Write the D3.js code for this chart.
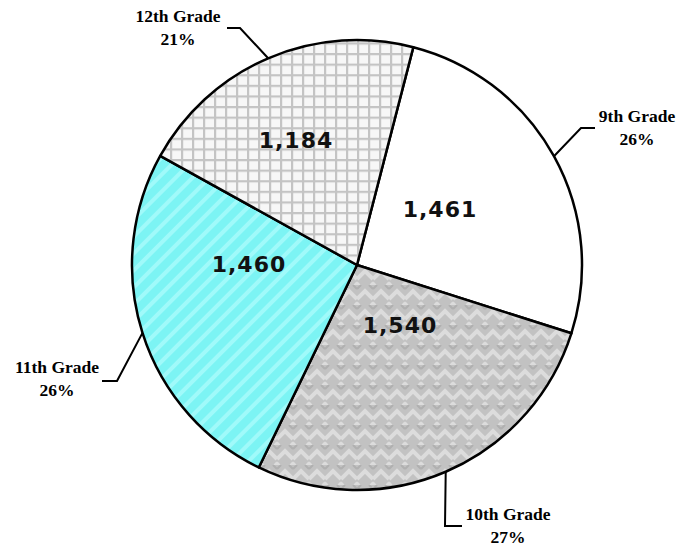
<!DOCTYPE html>
<html>
<head>
<meta charset="utf-8">
<script src="https://cdn.jsdelivr.net/npm/d3@7"></script>
<style>
  body { margin: 0; background: #fff; }
  svg { display: block; }
</style>
</head>
<body>
<div id="chart"></div>
<script>
// Data grade dan jumlah siswa
var grades = ["9th Grade", "10th Grade", "11th Grade", "12th Grade"];
var counts = [1461, 1540, 1460, 1184];
var percents = ["26%", "27%", "26%", "21%"];
var valueLabels = ["1,461", "1,540", "1,460", "1,184"];

var width = 684;
var height = 546;
var cx = 357, cy = 265;
var radius = 225;
var startDeg = 14.5; // posisi awal irisan pertama

var svg = d3.select("#chart")
    .append("svg")
    .attr("width", width)
    .attr("height", height);

// Pola isian untuk tiap irisan
var defs = svg.append("defs");

// kisi-kisi abu-abu untuk 12th
var pGrid = defs.append("pattern")
    .attr("id", "pGrid")
    .attr("patternUnits", "userSpaceOnUse")
    .attr("width", 11).attr("height", 10.6);
pGrid.append("rect").attr("width", 11).attr("height", 10.6).attr("fill", "#f7f7f7");
pGrid.append("rect").attr("x", 0).attr("y", 0).attr("width", 2.2).attr("height", 10.6).attr("fill", "#c4c4c4");
pGrid.append("rect").attr("x", 0).attr("y", 0).attr("width", 11).attr("height", 2.2).attr("fill", "#c4c4c4");

// zigzag abu-abu untuk 10th
var pZig = defs.append("pattern")
    .attr("id", "pZig")
    .attr("patternUnits", "userSpaceOnUse")
    .attr("width", 16).attr("height", 20);
pZig.append("rect").attr("width", 16).attr("height", 20).attr("fill", "#c2c2c2");
pZig.append("path")
    .attr("d", "M0,14 L8,6 L16,14 M0,20 L2,18 M14,18 L16,20")
    .attr("stroke", "#dcdcdc").attr("stroke-width", 4).attr("fill", "none");
pZig.append("path")
    .attr("d", "M0,4 L4,0 M12,0 L16,4")
    .attr("stroke", "#b0b0b0").attr("stroke-width", 2).attr("fill", "none");

// diagonal cyan untuk 11th
var pCyan = defs.append("pattern")
    .attr("id", "pCyan")
    .attr("patternUnits", "userSpaceOnUse")
    .attr("width", 12).attr("height", 12)
    .attr("patternTransform", "rotate(45)");
pCyan.append("rect").attr("width", 12).attr("height", 12).attr("fill", "#7cf4f4");
pCyan.append("rect").attr("x", 0).attr("width", 4).attr("height", 12).attr("fill", "#a0fafa");

var fills = ["#ffffff", "url(#pZig)", "url(#pCyan)", "url(#pGrid)"];

var toRad = Math.PI / 180;
var pie = d3.pie()
    .sort(null)
    .value(function(d) { return d; })
    .startAngle(startDeg * toRad)
    .endAngle((startDeg + 360) * toRad);

var arcs = pie(counts);

var arc = d3.arc().innerRadius(0).outerRadius(radius);

var g = svg.append("g")
    .attr("transform", "translate(" + cx + "," + cy + ")");

g.selectAll("path.slice")
    .data(arcs)
    .enter()
    .append("path")
    .attr("class", "slice")
    .attr("d", arc)
    .attr("fill", function(d, i) { return fills[i]; })
    .attr("stroke", "#000")
    .attr("stroke-width", 2.5)
    .attr("stroke-linejoin", "round");

// Label angka di dalam irisan (posisi disesuaikan manual)
var innerPos = [[83, -48], [43, 68], [-108, 7], [-61, -117]];
g.selectAll("text.val")
    .data(arcs)
    .enter()
    .append("text")
    .attr("class", "val")
    .attr("x", function(d, i) { return innerPos[i][0]; })
    .attr("y", function(d, i) { return innerPos[i][1]; })
    .attr("text-anchor", "middle")
    .style("font-family", "'DejaVu Sans', Verdana, sans-serif")
    .style("font-weight", "bold")
    .style("font-size", "22px")
    .style("letter-spacing", "1px")
    .style("fill", "#111")
    .text(function(d, i) { return valueLabels[i]; });

// Garis penunjuk dan label luar
// siku: titik belok, ujung: akhir garis horizontal, teks: pusat label
var elbow = [[581, 128], [445, 526], [117, 381], [240, 28]];
var tipX = [595, 462, 102, 227];
var labelPos = [[637, 122], [508, 520], [57, 373], [178, 22]];

arcs.forEach(function(d, i) {
    var mid = (d.startAngle + d.endAngle) / 2;
    var px = cx + radius * Math.sin(mid);
    var py = cy - radius * Math.cos(mid);
    svg.append("polyline")
        .attr("points", [[px, py], elbow[i], [tipX[i], elbow[i][1]]].map(function(p) { return p.join(","); }).join(" "))
        .attr("fill", "none")
        .attr("stroke", "#000")
        .attr("stroke-width", 2);

    var t = svg.append("text")
        .attr("x", labelPos[i][0])
        .attr("y", labelPos[i][1])
        .attr("text-anchor", "middle")
        .style("font-family", "'Liberation Serif', 'Times New Roman', serif")
        .style("font-weight", "bold")
        .style("font-size", "17.5px")
        .style("fill", "#000");
    t.append("tspan").attr("x", labelPos[i][0]).text(grades[i]);
    t.append("tspan").attr("x", labelPos[i][0]).attr("dy", 23).text(percents[i]);
});
</script>
</body>
</html>
